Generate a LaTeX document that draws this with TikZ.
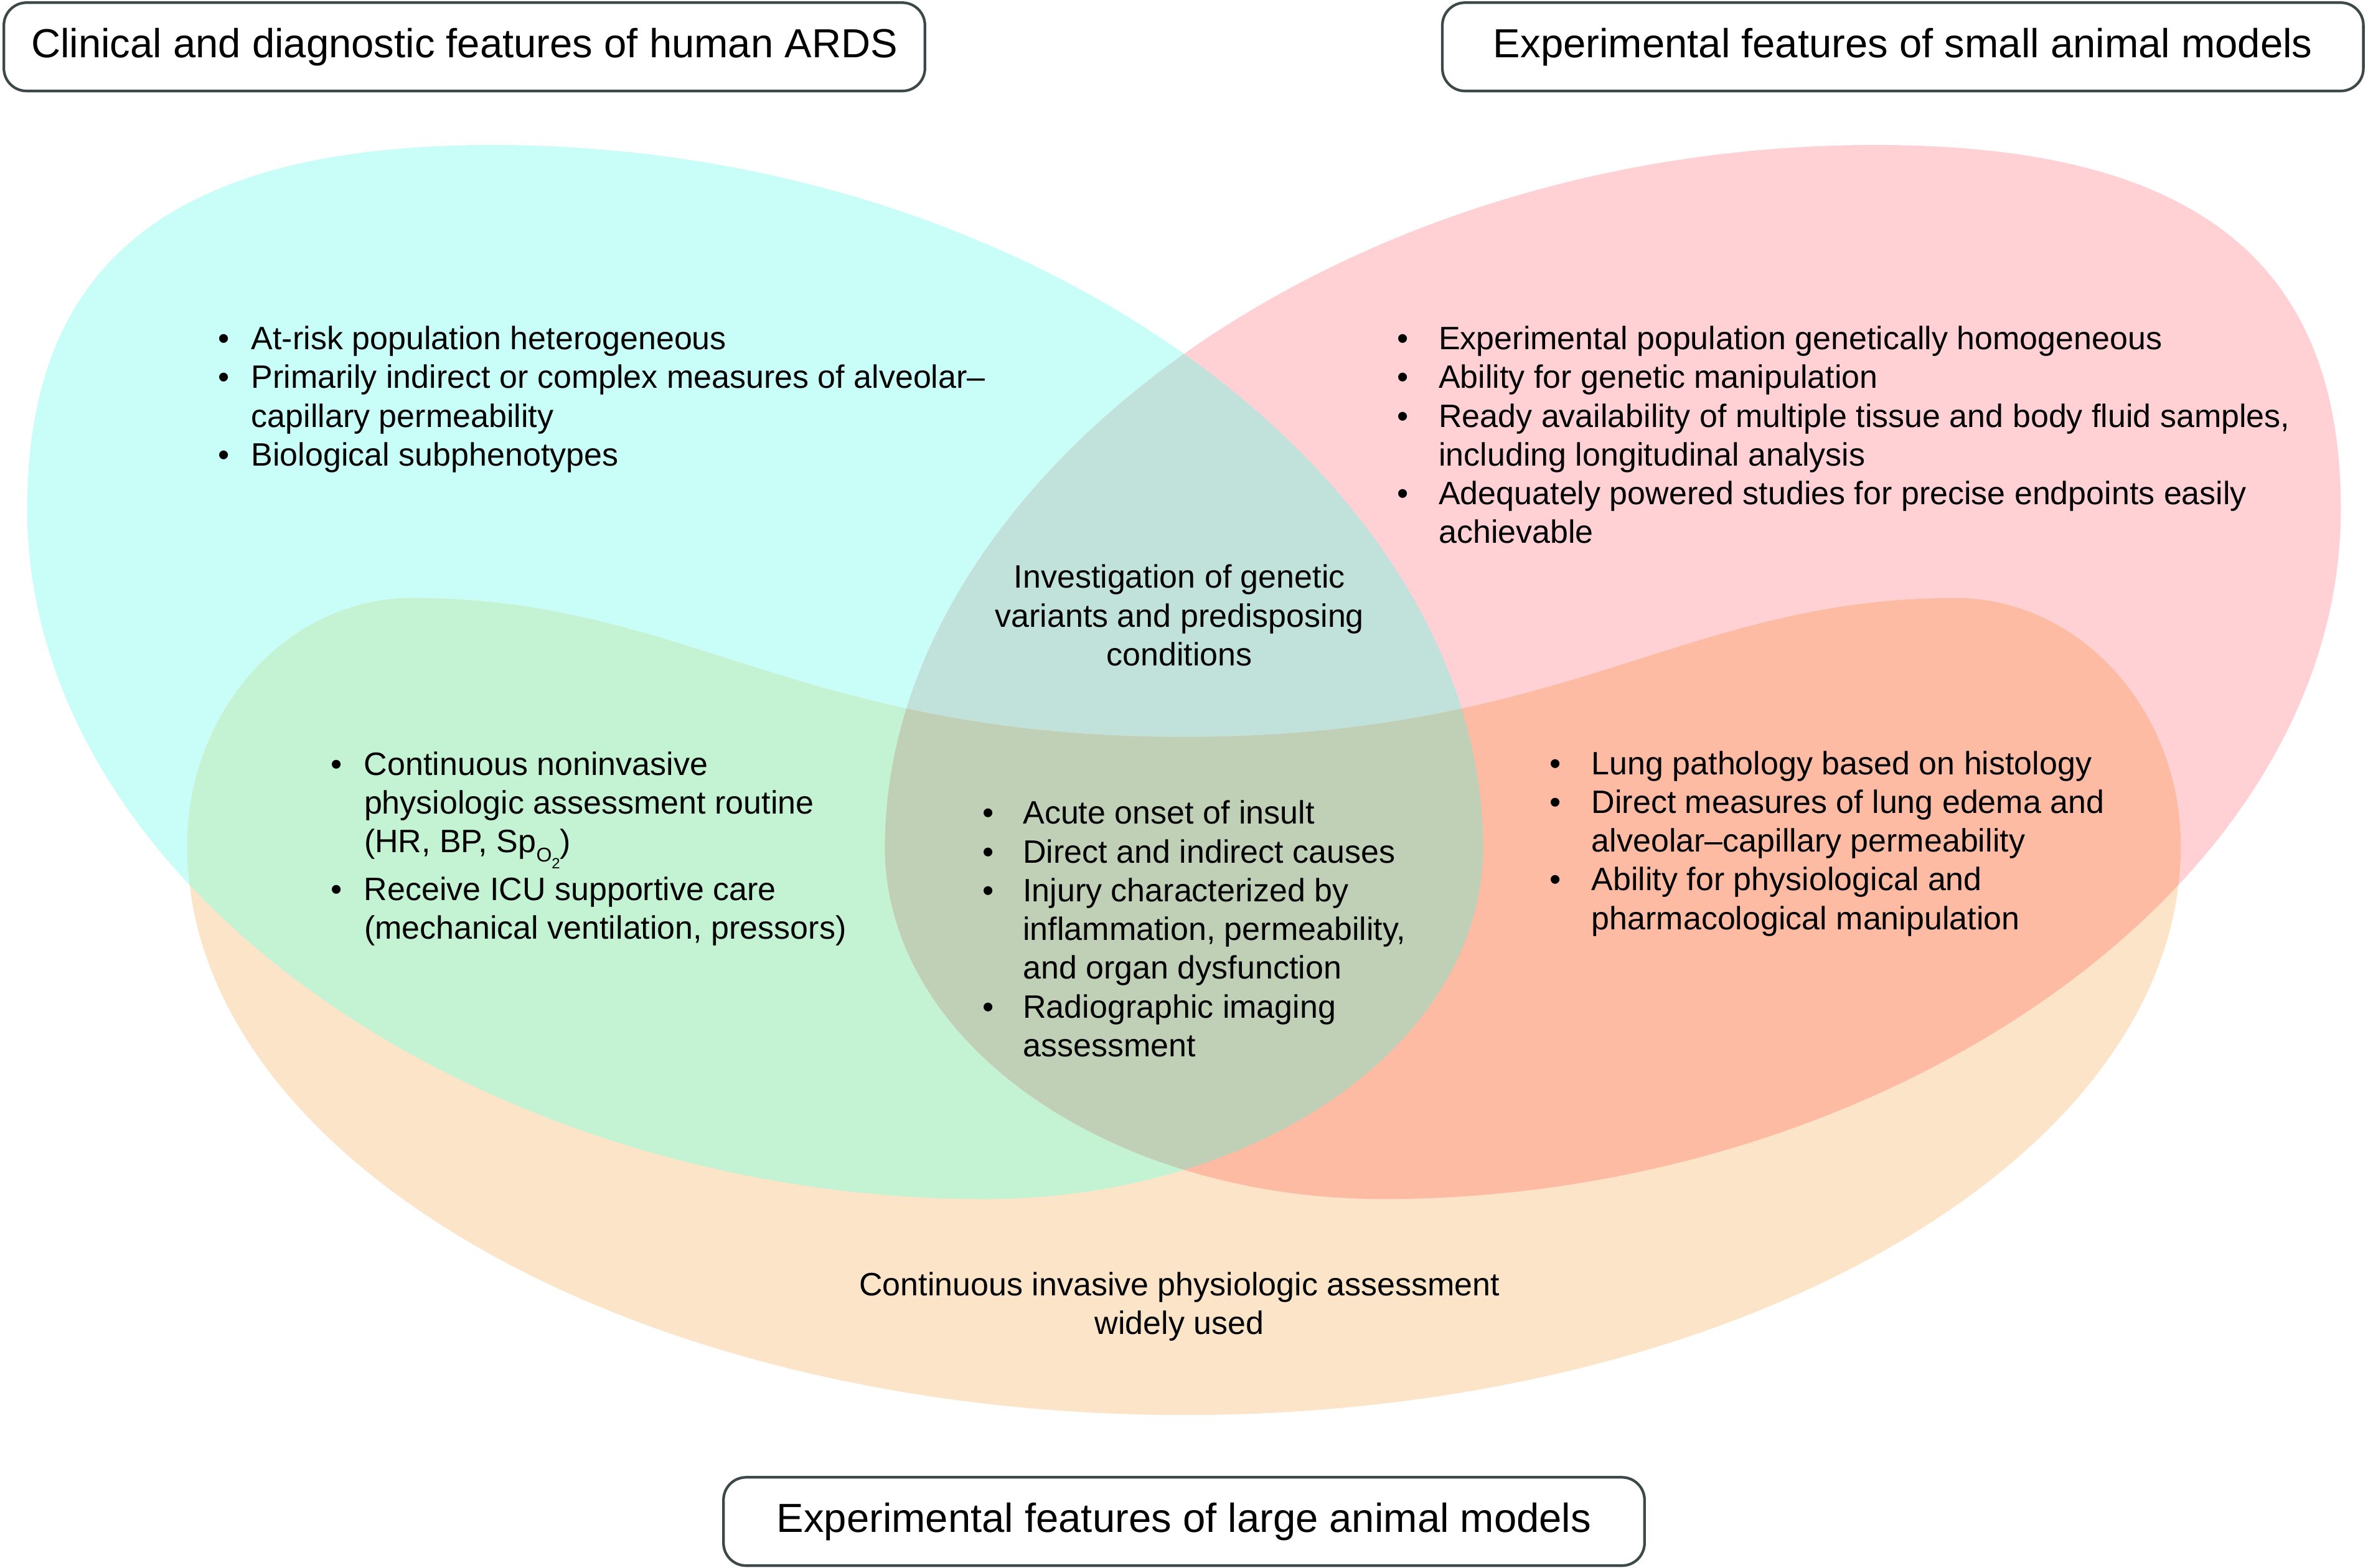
\documentclass[tikz,border=0pt]{standalone}
\usepackage{fontspec}
\setmainfont{Liberation Sans}

\definecolor{humanfill}{HTML}{C8FDF8}
\definecolor{smallfill}{HTML}{FFD0D4}
\definecolor{largefill}{HTML}{FCE4C8}
\definecolor{humansmallfill}{HTML}{C0E2DA}
\definecolor{humanlargefill}{HTML}{C3F3D2}
\definecolor{smalllargefill}{HTML}{FDBBA4}
\definecolor{allfill}{HTML}{C0D0B7}
\definecolor{boxline}{HTML}{3D4848}

\newcommand{\bodyfont}{\fontsize{12.2pt}{14.6pt}\selectfont}
\newcommand{\titlefont}{\fontsize{15.3pt}{18pt}\selectfont}
\newcommand{\bulletlist}[2]{\begin{tabular}[t]{@{}l@{\hspace{#1}}l@{}}#2\end{tabular}}
\newcommand{\centerlines}[1]{\begin{tabular}[t]{@{}c@{}}#1\end{tabular}}
\newcommand{\spotwo}{Sp\smash{\raisebox{-3.4pt}{\fontsize{7.5pt}{8pt}\selectfont O\raisebox{-2.6pt}{\fontsize{5.6pt}{6pt}\selectfont 2}}}}

% outlines of the three sets
\newcommand{\humanblob}{(326,96) .. controls (688,96) and (982,321) .. (982,561)
    .. controls (982,690) and (834,794) .. (652,794)
    .. controls (322,794) and (18,589) .. (18,337)
    .. controls (18,172) and (116,96) .. (326,96) -- cycle}
\newcommand{\smallblob}{(1242,96) .. controls (880,96) and (586,321) .. (586,561)
    .. controls (586,690) and (734,794) .. (916,794)
    .. controls (1246,794) and (1550,589) .. (1550,337)
    .. controls (1550,172) and (1452,96) .. (1242,96) -- cycle}
\newcommand{\largeblob}{(124,560) .. controls (124,470) and (191,396) .. (273,396)
    .. controls (453,396) and (529,488) .. (784,488)
    .. controls (1039,488) and (1115,396) .. (1295,396)
    .. controls (1377,396) and (1444,470) .. (1444,560)
    .. controls (1444,768) and (1148,937) .. (784,937)
    .. controls (420,937) and (124,768) .. (124,560) -- cycle}

\tikzset{
  titlebox/.style={draw=boxline, line width=1pt, rounded corners=0.3cm, fill=white,
    minimum width=12.2cm, minimum height=1.17cm, inner sep=0pt, font=\titlefont},
  listtext/.style={anchor=base west, inner sep=0pt, font=\bodyfont},
  centretext/.style={anchor=base, inner sep=0pt, font=\bodyfont}
}

\begin{document}
\begin{tikzpicture}[x=0.02cm, y=-0.02cm]
    \useasboundingbox (0,0) rectangle (1568,1038);

    % Fill the three sets
    \fill[humanfill] \humanblob;
    \fill[smallfill] \smallblob;
    \fill[largefill] \largeblob;

    % Overlaps with the human set
    \begin{scope}
        \clip \humanblob;
        \fill[humansmallfill] \smallblob;
        \fill[humanlargefill] \largeblob;
    \end{scope}
    % Overlap of the two animal sets, and all three
    \begin{scope}
        \clip \smallblob;
        \fill[smalllargefill] \largeblob;
        \clip \humanblob;
        \fill[allfill] \largeblob;
    \end{scope}

    % Add the titles
    \node[titlebox] (humantitle) at (307.5,31) {Clinical and diagnostic features of human ARDS};
    \node[titlebox] (smalltitle) at (1260,31) {Experimental features of small animal models};
    \node[titlebox] (largetitle) at (784,1007.5) {Experimental features of large animal models};

    % Add the human features
    \node[listtext] (humanlist) at (144,231.5) {\bulletlist{8.3pt}{
        \textbullet & At-risk population heterogeneous\\
        \textbullet & Primarily indirect or complex measures of alveolar--\\
                    & capillary permeability\\
        \textbullet & Biological subphenotypes}};

    % Add the small animal features
    \node[listtext] (smalllist) at (925,231.5) {\bulletlist{11.3pt}{
        \textbullet & Experimental population genetically homogeneous\\
        \textbullet & Ability for genetic manipulation\\
        \textbullet & Ready availability of multiple tissue and body fluid samples,\\
                    & including longitudinal analysis\\
        \textbullet & Adequately powered studies for precise endpoints easily\\
                    & achievable}};

    % Add the human and small animal overlap
    \node[centretext] (humansmalltext) at (781,389.5) {\centerlines{
        Investigation of genetic\\ variants and predisposing\\ conditions}};

    % Add the human and large animal overlap
    \node[listtext] (humanlargelist) at (218.7,513.2) {\bulletlist{8.3pt}{
        \textbullet & Continuous noninvasive\\
                    & physiologic assessment routine\\
                    & (HR, BP, \spotwo)\\[3.4pt]
        \textbullet & Receive ICU supportive care\\
                    & (mechanical ventilation, pressors)}};

    % Add the features common to all three
    \node[listtext] (commonlist) at (650.2,545.7) {\bulletlist{11pt}{
        \textbullet & Acute onset of insult\\
        \textbullet & Direct and indirect causes\\
        \textbullet & Injury characterized by\\
                    & inflammation, permeability,\\
                    & and organ dysfunction\\
        \textbullet & Radiographic imaging\\
                    & assessment}};

    % Add the small and large animal overlap
    \node[listtext] (smalllargelist) at (1025.8,512.8) {\bulletlist{11.5pt}{
        \textbullet & Lung pathology based on histology\\
        \textbullet & Direct measures of lung edema and\\
                    & alveolar--capillary permeability\\
        \textbullet & Ability for physiological and\\
                    & pharmacological manipulation}};

    % Add the large animal features
    \node[centretext] (largetext) at (781,858) {\centerlines{
        Continuous invasive physiologic assessment\\ widely used}};
\end{tikzpicture}
\end{document}
